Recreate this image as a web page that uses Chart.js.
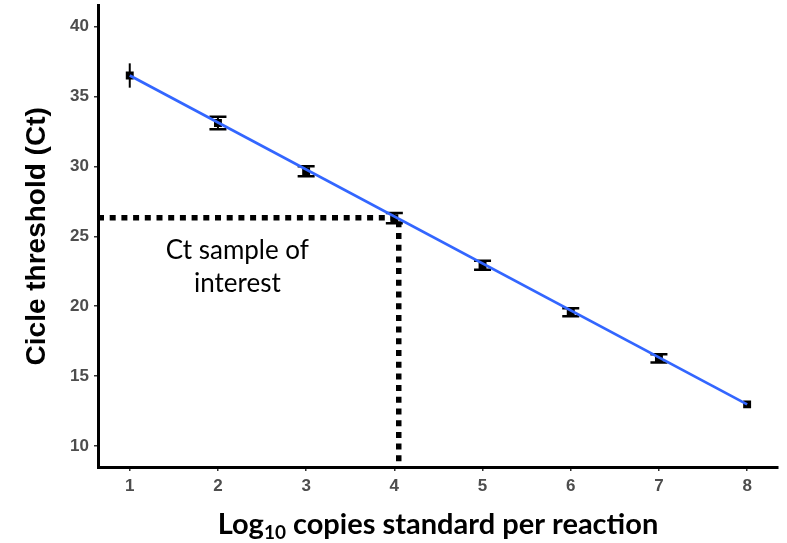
<!DOCTYPE html>
<html>
<head>
<meta charset="utf-8">
<script src="https://cdn.jsdelivr.net/npm/chart.js@4"></script>
<style>
  body { margin: 0; background: #fff; }
  #wrap { width: 787px; height: 543px; }
</style>
</head>
<body>
<div id="wrap"><canvas id="chart" width="787" height="543"></canvas></div>
<script>
// standard curve: mean Ct and error for each dilution
const logCopies = [1, 2, 3, 4, 5, 6, 7, 8];
const ctMean = [36.5, 33.1, 29.65, 26.3, 22.93, 19.57, 16.27, 12.98];
const ctErr = [0.87, 0.45, 0.36, 0.36, 0.32, 0.29, 0.29, 0.1];

// ends of the fitted line
const fitX = [1, 8];
const fitY = [36.5, 12.98];

// dotted guide for the sample of interest
const sampleX = [0.64, 4.05, 4.05];
const sampleY = [26.32, 26.32, 8.5];

const xTicks = [1, 2, 3, 4, 5, 6, 7, 8];
const yTicks = [10, 15, 20, 25, 30, 35, 40];

const noteLines = ['Ct sample of', 'interest'];
const noteX = 2.22;
const noteY = [24.0, 21.65];

const toPoints = (xs, ys) => xs.map((v, i) => ({ x: v, y: ys[i] }));

// Error bars under the points (first and last have no visible caps)
const errorBars = {
    id: 'errorBars',
    beforeDatasetsDraw(chart) {
        const { ctx, scales: { x, y } } = chart;
        ctx.save();
        ctx.strokeStyle = '#000';
        logCopies.forEach((v, i) => {
            const px = x.getPixelForValue(v);
            const top = y.getPixelForValue(ctMean[i] + ctErr[i]);
            const bot = y.getPixelForValue(ctMean[i] - ctErr[i]);
            ctx.lineWidth = 2;
            ctx.beginPath();
            ctx.moveTo(px, top);
            ctx.lineTo(px, bot);
            ctx.stroke();
            if (i > 0 && i < logCopies.length - 1) {
                ctx.lineWidth = 2.5;
                ctx.beginPath();
                ctx.moveTo(px - 8.5, top);
                ctx.lineTo(px + 8.5, top);
                ctx.moveTo(px - 8.5, bot);
                ctx.lineTo(px + 8.5, bot);
                ctx.stroke();
            }
        });
        ctx.restore();
    }
};

// Text note and x title with subscript
const extraText = {
    id: 'extraText',
    afterDraw(chart) {
        const { ctx, scales: { x, y }, chartArea } = chart;
        ctx.save();
        ctx.fillStyle = '#000';
        ctx.textAlign = 'center';
        ctx.textBaseline = 'middle';
        ctx.font = '400 26px Lato';
        noteLines.forEach((line, i) => {
            ctx.fillText(line, x.getPixelForValue(noteX), y.getPixelForValue(noteY[i]));
        });

        // x axis title: Log10 copies standard per reaction
        const big = '700 29px Lato';
        const small = '700 19px Lato';
        const partA = 'Log';
        const sub = '10';
        const partB = ' copies standard per reaction';
        ctx.font = big;
        const wA = ctx.measureText(partA).width;
        const wB = ctx.measureText(partB).width;
        ctx.font = small;
        const wS = ctx.measureText(sub).width;
        const cx = (chartArea.left + chartArea.right) / 2;
        let sx = cx - (wA + wS + wB) / 2;
        const ty = 525;
        ctx.textAlign = 'left';
        ctx.font = big;
        ctx.fillText(partA, sx, ty);
        sx += wA;
        ctx.font = small;
        ctx.fillText(sub, sx, ty + 8);
        sx += wS;
        ctx.font = big;
        ctx.fillText(partB, sx, ty);
        ctx.restore();
    }
};

const tickFont = { family: 'Liberation Sans', size: 17, weight: 'bold' };

new Chart(document.getElementById('chart').getContext('2d'), {
    type: 'scatter',
    data: {
        datasets: [
            {
                label: 'fit',
                type: 'line',
                data: toPoints(fitX, fitY),
                borderColor: '#3366FF',
                borderWidth: 2.8,
                pointRadius: 0,
                fill: false,
                order: 0
            },
            {
                label: 'standards',
                data: toPoints(logCopies, ctMean),
                pointStyle: 'rect',
                pointRadius: 5.6,
                backgroundColor: '#000',
                borderColor: '#000',
                borderWidth: 0,
                order: 1
            },
            {
                label: 'sample',
                type: 'line',
                data: toPoints(sampleX, sampleY),
                borderColor: '#000',
                borderWidth: 5.5,
                borderDash: [6, 5.7],
                borderCapStyle: 'butt',
                pointRadius: 0,
                fill: false,
                order: 2
            }
        ]
    },
    options: {
        responsive: false,
        animation: false,
        devicePixelRatio: 1,
        layout: { padding: { top: 5, right: 9, bottom: 0, left: 0 } },
        plugins: {
            legend: { display: false },
            tooltip: { enabled: false }
        },
        scales: {
            x: {
                type: 'linear',
                min: 0.64,
                max: 8.35,
                afterBuildTicks: axis => { axis.ticks = xTicks.map(v => ({ value: v })); },
                afterFit: axis => {
                    axis.height = 76;
                    axis.paddingLeft = 0;
                    axis.paddingRight = 0;
                },
                grid: { display: true, drawOnChartArea: false, drawTicks: true, tickLength: 4, color: '#333', lineWidth: 1.5 },
                border: { display: true, color: '#000', width: 3 },
                ticks: { color: '#4d4d4d', font: tickFont, padding: 5, maxRotation: 0 }
            },
            y: {
                type: 'linear',
                min: 8.5,
                max: 41.5,
                afterBuildTicks: axis => { axis.ticks = yTicks.map(v => ({ value: v })); },
                afterFit: axis => {
                    axis.width = 98;
                    axis.paddingTop = 0;
                    axis.paddingBottom = 0;
                },
                grid: { display: true, drawOnChartArea: false, drawTicks: true, tickLength: 4, color: '#333', lineWidth: 1.5 },
                border: { display: true, color: '#000', width: 3 },
                ticks: { color: '#4d4d4d', font: tickFont, padding: 5 },
                title: {
                    display: true,
                    text: 'Cicle threshold (Ct)',
                    color: '#000',
                    font: { family: 'Liberation Sans', size: 28, weight: 'bold' },
                    padding: { top: 20, bottom: 0 }
                }
            }
        }
    },
    plugins: [errorBars, extraText]
});
</script>
</body>
</html>
